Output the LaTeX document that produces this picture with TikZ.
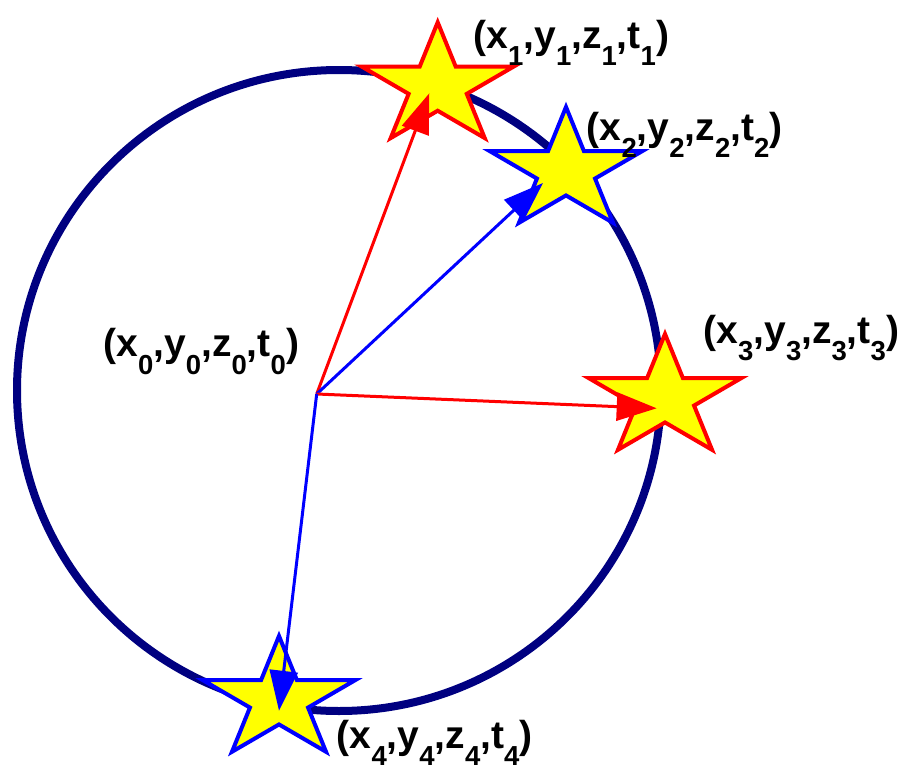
\documentclass[tikz,border=0pt]{standalone}
\usepackage{fontspec}
\setmainfont{Liberation Sans}
\usepackage{tikz}
\usetikzlibrary{shapes.geometric,arrows.meta}
\definecolor{RingNavy}  {RGB}{0,  0,  128}
\definecolor{StarYellow}{RGB}{255,255,0}
\newcommand{\lowidx}[1]{\raisebox{-0.45em}{\fontsize{27.5}{30}\selectfont #1}}
\newcommand{\quadlabel}[1]{(x\lowidx{#1},y\lowidx{#1},z\lowidx{#1},t\lowidx{#1})}

\begin{document}
\begin{tikzpicture}[
  x = 1pt, y = -1pt,
  star5/.style = {star, star points=5, star point ratio=2.618,
                  minimum size=128pt, inner sep=0pt, fill=StarYellow,
                  line width=4pt, transform shape, xscale=1.25},
  arr/.style   = {-{Triangle[length=40pt,width=28pt]}, line width=3pt},
  lab/.style   = {anchor=base west, inner sep=0pt,
                  font=\fontsize{39}{47}\selectfont\bfseries}
]
\useasboundingbox (0,0) rectangle (903,771);
\draw[RingNavy, line width=8pt] (339,390.5) ellipse [x radius=322, y radius=320.5];
\node[star5, draw=red]  (s1) at (437.7,86.3) {};
\node[star5, draw=blue] (s2) at (566,171)    {};
\node[star5, draw=red]  (s3) at (665,398)    {};
\node[star5, draw=blue] (s4) at (279,700)    {};
\coordinate (o)  at (316.7,394);
\coordinate (t1) at (429.3,93.3);
\coordinate (t2) at (543,183);
\coordinate (t3) at (656.7,408.3);
\coordinate (t4) at (279,710.7);
\draw[arr, red]  (o) -- (t1);
\draw[arr, blue] (o) -- (t2);
\draw[arr, red]  (o) -- (t3);
\draw[arr, blue] (o) -- (t4);
\node[lab] (l0) at (103.3,356.7) {\quadlabel{0}};
\node[lab] (l1) at (473.3,48.3)  {\quadlabel{1}};
\node[lab] (l2) at (586.7,140)   {\quadlabel{2}};
\node[lab] (l3) at (703.3,343)   {\quadlabel{3}};
\node[lab] (l4) at (336.7,748)   {\quadlabel{4}};
\end{tikzpicture}
\end{document}
